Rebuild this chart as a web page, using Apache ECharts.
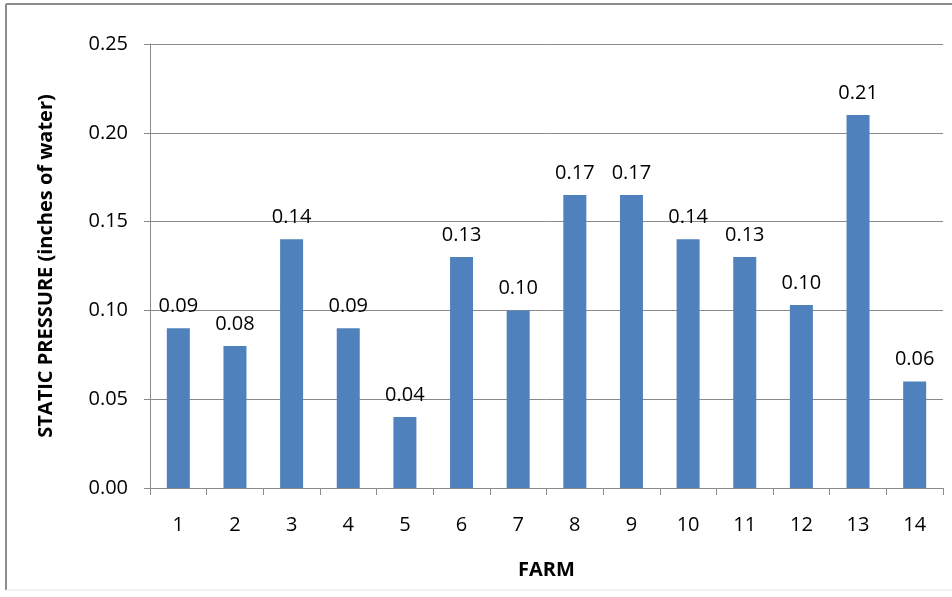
<!DOCTYPE html>
<html>
<head>
<meta charset="utf-8">
<script src="https://cdn.jsdelivr.net/npm/echarts@6/dist/echarts.min.js"></script>
<style>
  html, body { margin: 0; padding: 0; background: #ffffff; }
  #chart { width: 952px; height: 597px; }
</style>
</head>
<body>
<div id="chart"></div>
<script>
// Farms and measured static pressure (inches of water)
const farms = ['1', '2', '3', '4', '5', '6', '7', '8', '9', '10', '11', '12', '13', '14'];
const staticPressure = [0.09, 0.08, 0.14, 0.09, 0.04, 0.13, 0.10, 0.165, 0.165, 0.14, 0.13, 0.103, 0.21, 0.06];
const yTicks = [0, 0.05, 0.10, 0.15, 0.20, 0.25];

const FONT = '"Open Sans", "Liberation Sans", sans-serif';
const GRID_GRAY = '#8a8a8a';

const chart = echarts.init(document.getElementById('chart'), null, { renderer: 'canvas' });

chart.setOption({
  backgroundColor: '#ffffff',
  animation: false,
  grid: { left: 150, right: 9, top: 44, bottom: 109, containLabel: false },
  graphic: [
    // outer chart frame
    { type: 'line', shape: { x1: 6, y1: 4, x2: 952, y2: 4 }, style: { stroke: '#8c8c8c', lineWidth: 2 } },
    { type: 'line', shape: { x1: 6, y1: 4, x2: 6, y2: 590 }, style: { stroke: '#8c8c8c', lineWidth: 2 } },
    { type: 'line', shape: { x1: 6, y1: 590, x2: 952, y2: 590 }, style: { stroke: '#e2e2e2', lineWidth: 1 } }
  ],
  xAxis: {
    type: 'category',
    data: farms,
    name: 'FARM',
    nameLocation: 'middle',
    nameGap: 72,
    nameTextStyle: { fontFamily: FONT, fontWeight: 'bold', fontSize: 20, color: '#000' },
    axisLine: { show: true, lineStyle: { color: GRID_GRAY, width: 1 } },
    axisTick: { show: true, alignWithLabel: false, length: 7, lineStyle: { color: GRID_GRAY } },
    axisLabel: { fontFamily: FONT, fontSize: 20, color: '#000', margin: 27 },
    splitLine: { show: false }
  },
  yAxis: {
    type: 'value',
    min: 0,
    max: 0.25,
    interval: 0.05,
    name: 'STATIC PRESSURE (inches of water)',
    nameLocation: 'middle',
    nameRotate: 90,
    nameGap: 94,
    nameTextStyle: { fontFamily: FONT, fontWeight: 'bold', fontSize: 20, color: '#000' },
    axisLine: { show: true, lineStyle: { color: GRID_GRAY, width: 1 } },
    axisTick: { show: true, inside: false, length: 6, lineStyle: { color: GRID_GRAY } },
    axisLabel: {
      fontFamily: FONT, fontSize: 20, color: '#000', margin: 22,
      formatter: v => {
        const t = yTicks.find(k => Math.abs(k - v) < 1e-9);
        return (t !== undefined ? t : v).toFixed(2);
      }
    },
    splitLine: { show: true, lineStyle: { color: GRID_GRAY, width: 1 } }
  },
  series: [{
    type: 'bar',
    data: staticPressure,
    barWidth: 23,
    itemStyle: { color: '#4f81bd' },
    label: {
      show: true,
      position: 'top',
      distance: 12,
      fontFamily: FONT,
      fontSize: 20,
      color: '#000',
      formatter: p => p.value.toFixed(2)
    }
  }]
});
</script>
</body>
</html>
